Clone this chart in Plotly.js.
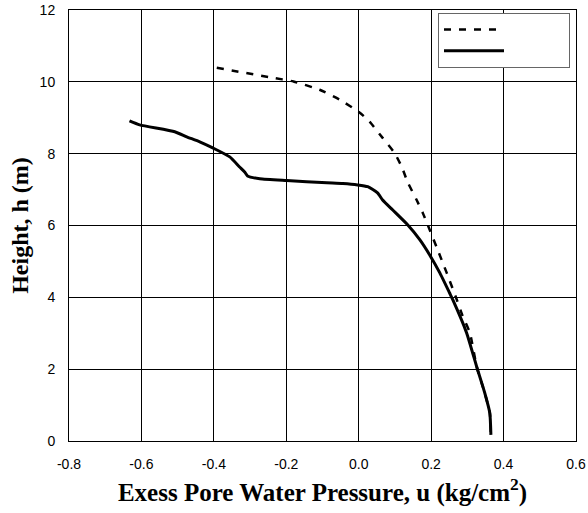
<!DOCTYPE html>
<html>
<head>
<meta charset="utf-8">
<script src="https://cdn.plot.ly/plotly-3.0.1.min.js"></script>
<style>html,body{margin:0;padding:0;background:#fff;}</style>
</head>
<body>
<div id="chart" style="width:588px;height:513px;"></div>
<script>
// Dashed series (u in kg/cm2, h in m)
const dashedU = [-0.392, -0.241, -0.180, -0.108, -0.052, 0.003, 0.030, 0.066, 0.099, 0.119, 0.135, 0.160, 0.177, 0.196, 0.215, 0.243, 0.271, 0.287, 0.307, 0.326, 0.348, 0.362, 0.365];
const dashedH = [10.39, 10.12, 10.01, 9.78, 9.50, 9.14, 8.89, 8.44, 8.02, 7.63, 7.21, 6.71, 6.35, 5.88, 5.40, 4.68, 3.93, 3.48, 3.01, 2.06, 1.34, 0.78, 0.17];
// Solid series
const solidU = [-0.633, -0.605, -0.508, -0.475, -0.439, -0.403, -0.356, -0.329, -0.315, -0.307, -0.273, -0.199, -0.088, -0.044, -0.003, 0.025, 0.052, 0.066, 0.094, 0.135, 0.169, 0.196, 0.224, 0.251, 0.260, 0.298, 0.326, 0.348, 0.362, 0.365];
const solidH = [8.91, 8.80, 8.61, 8.47, 8.33, 8.16, 7.91, 7.63, 7.49, 7.38, 7.30, 7.25, 7.19, 7.17, 7.13, 7.08, 6.91, 6.71, 6.43, 6.02, 5.60, 5.18, 4.68, 4.12, 3.93, 3.01, 2.06, 1.34, 0.78, 0.17];
const xTicks = [-0.8, -0.6, -0.4, -0.2, 0.0, 0.2, 0.4, 0.6];
const xTickLabels = ['-0.8', '-0.6', '-0.4', '-0.2', '0.0', '0.2', '0.4', '0.6'];
const yTicks = [0, 2, 4, 6, 8, 10, 12];

const traces = [
  {x: dashedU, y: dashedH, mode: 'lines', name: '\u00a0'.repeat(14),
   line: {color: '#000', width: 2.5, dash: '7px,8px', shape: 'spline', smoothing: 0.5}},
  {x: solidU, y: solidH, mode: 'lines', name: '\u00a0'.repeat(14),
   line: {color: '#000', width: 3, shape: 'spline', smoothing: 0.5}}
];

const titleFont = {family: 'Liberation Serif, Times New Roman, serif', size: 24, color: '#000', weight: 'bold'};

const layout = {
  width: 588, height: 513,
  margin: {l: 69, r: 12, t: 10, b: 72},
  paper_bgcolor: '#fff', plot_bgcolor: '#fff',
  font: {family: 'Liberation Sans, Arial, sans-serif', size: 14, color: '#000'},
  xaxis: {
    range: [-0.8, 0.6], tickvals: xTicks, ticktext: xTickLabels,
    showgrid: true, gridcolor: '#000', gridwidth: 1,
    zeroline: false, showline: true, linecolor: '#000', linewidth: 1, mirror: true,
    ticks: '', ticklen: 0, ticklabelstandoff: 10,
    title: {text: 'Exess Pore Water Pressure, u (kg/cm<sup>2</sup>)',
      font: Object.assign({}, titleFont, {size: 25}), standoff: 12}
  },
  yaxis: {
    range: [0, 12], tickvals: yTicks,
    showgrid: true, gridcolor: '#000', gridwidth: 1,
    zeroline: false, showline: true, linecolor: '#000', linewidth: 1, mirror: true,
    ticks: '', ticklen: 0, ticklabelstandoff: 10,
    title: {text: 'Height, h (m)', font: titleFont, standoff: 4}
  },
  showlegend: true,
  legend: {
    x: (438 - 69) / 507, y: 1 - 3 / 431, xref: 'paper', yref: 'paper',
    xanchor: 'left', yanchor: 'top',
    bgcolor: '#fff', bordercolor: '#666', borderwidth: 1,
    font: {size: 14}, itemwidth: 60, tracegroupgap: 0
  }
};

Plotly.newPlot('chart', traces, layout, {displayModeBar: false, staticPlot: true});
</script>
</body>
</html>
